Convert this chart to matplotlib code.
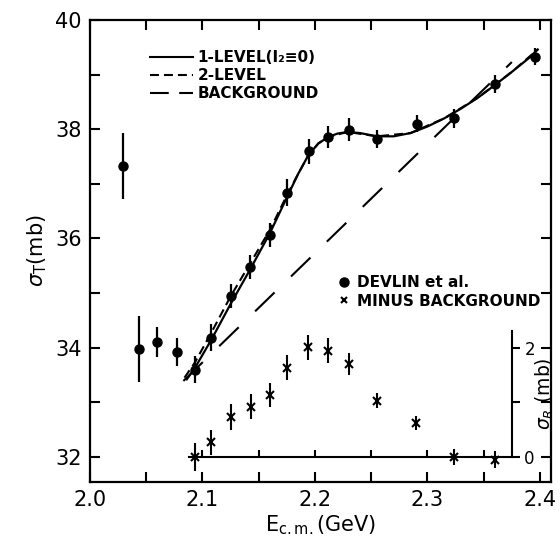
import matplotlib
matplotlib.use('Agg')
import matplotlib.pyplot as plt
from matplotlib.lines import Line2D
import matplotlib.ticker as ticker

# ── Data ──────────────────────────────────────────────────────────────────────
E_devlin   = [2.029, 2.044, 2.060, 2.077, 2.093, 2.108, 2.125, 2.142, 2.160,
              2.175, 2.195, 2.212, 2.230, 2.255, 2.291, 2.324, 2.360, 2.396]
sig_devlin = [37.33, 33.98, 34.10, 33.92, 33.60, 34.18, 34.95, 35.48, 36.07,
              36.84, 37.60, 37.86, 37.99, 37.82, 38.10, 38.20, 38.83, 39.33]
err_devlin = [0.60, 0.60, 0.27, 0.25, 0.25, 0.25, 0.22, 0.22, 0.22,
              0.25, 0.23, 0.20, 0.21, 0.17, 0.16, 0.17, 0.16, 0.16]

# minus background (sigma_R, mb)
E_r   = [2.093, 2.108, 2.125, 2.143, 2.160, 2.175, 2.194, 2.212, 2.230,
         2.255, 2.290, 2.324, 2.360]
sig_r = [0.00, 0.27, 0.73, 0.92, 1.14, 1.63, 2.01, 1.94, 1.70,
         1.03, 0.62, 0.00, -0.05]
err_r = [0.25, 0.23, 0.23, 0.23, 0.22, 0.23, 0.23, 0.23, 0.20,
         0.14, 0.13, 0.14, 0.15]

# fit curves
E_1lvl   = [2.086, 2.093, 2.108, 2.125, 2.142, 2.160, 2.169, 2.175, 2.185,
            2.194, 2.203, 2.212, 2.220, 2.229, 2.240, 2.255, 2.270, 2.285,
            2.300, 2.315, 2.330, 2.345, 2.360, 2.375, 2.390, 2.398]
sig_1lvl = [33.42, 33.62, 34.15, 34.80, 35.42, 36.10, 36.49, 36.75, 37.18,
            37.52, 37.74, 37.86, 37.92, 37.95, 37.93, 37.87, 37.87, 37.93,
            38.05, 38.20, 38.38, 38.58, 38.81, 39.05, 39.30, 39.46]

E_2lvl   = [2.084, 2.093, 2.108, 2.125, 2.142, 2.160, 2.175, 2.185, 2.194,
            2.203, 2.212, 2.229, 2.255, 2.285, 2.315, 2.345, 2.375, 2.398]
sig_2lvl = [33.45, 33.72, 34.28, 34.94, 35.53, 36.16, 36.79, 37.18, 37.52,
            37.74, 37.86, 37.95, 37.87, 37.93, 38.20, 38.58, 39.05, 39.46]

E_bg   = [2.083, 2.375]
sig_bg = [33.39, 39.23]

# sigma_R sub-axis extent (main-axis units)
SUB_X0, SUB_X1 = 2.088, 2.375
SUB_Y0, SUB_H  = 32.0, 2.3

plt.rcParams.update({
    'font.family': 'DejaVu Sans',
    'axes.linewidth': 1.6,
})

fig = plt.figure(figsize=(5.6, 5.42), dpi=100)
ax = fig.add_axes([90/560, 1 - 482/542, 461/560, 462/542])

# ── curves ────────────────────────────────────────────────────────────────────
ax.plot(E_bg, sig_bg, color='black', lw=1.5, dashes=(13, 11))
ax.plot(E_2lvl, sig_2lvl, color='black', lw=1.5, dashes=(4.3, 2.4))
ax.plot(E_1lvl, sig_1lvl, color='black', lw=1.6)

# ── Devlin data ───────────────────────────────────────────────────────────────
ax.errorbar(E_devlin, sig_devlin, yerr=err_devlin, fmt='o', color='black',
            markersize=6.5, elinewidth=1.6, capsize=0, zorder=5)

ax.set_xlim(2.0, 2.4098)
ax.set_ylim(31.54, 40)
ax.xaxis.set_major_locator(ticker.MultipleLocator(0.1))
ax.xaxis.set_minor_locator(ticker.MultipleLocator(0.05))
ax.yaxis.set_major_locator(ticker.MultipleLocator(2))
ax.yaxis.set_minor_locator(ticker.MultipleLocator(1))
ax.xaxis.set_major_formatter(ticker.FormatStrFormatter('%.1f'))
ax.tick_params(which='both', direction='in', length=7, width=1.5,
               top=True, right=True, labelsize=15, pad=6)

ax.set_xlabel(r'E$_{\mathregular{c.m.}}$(GeV)', fontsize=15, labelpad=2)
ax.set_ylabel(r'$\sigma_\mathregular{T}$(mb)', fontsize=15, labelpad=4)

# ── legends ───────────────────────────────────────────────────────────────────
h1 = [Line2D([], [], color='black', lw=1.5),
      Line2D([], [], color='black', lw=1.5, dashes=(4.3, 2.4)),
      Line2D([], [], color='black', lw=1.5, dashes=(9, 5))]
leg1 = ax.legend(h1, ['1-LEVEL(I₂≡0)', '2-LEVEL', 'BACKGROUND'],
                 loc='upper left', bbox_to_anchor=(0.13, 0.935),
                 frameon=False, borderaxespad=0, borderpad=0,
                 handlelength=2.8, handletextpad=0.3, labelspacing=0.2,
                 prop={'weight': 'bold', 'size': 11})
ax.add_artist(leg1)

h2 = [Line2D([], [], ls='none', marker='o', color='black', markersize=6.5),
      Line2D([], [], ls='none', marker='x', color='black', markersize=5,
             markeredgewidth=1.5)]
ax.legend(h2, ['DEVLIN et al.', 'MINUS BACKGROUND'],
          loc='upper left', bbox_to_anchor=(0.535, 0.447),
          frameon=False, borderaxespad=0, borderpad=0,
          handlelength=0.9, handletextpad=0.45, labelspacing=0.2,
          prop={'weight': 'bold', 'size': 11})

# ── sigma_R sub-axis ──────────────────────────────────────────────────────────
sub = ax.inset_axes([SUB_X0, SUB_Y0, SUB_X1 - SUB_X0, SUB_H],
                    transform=ax.transData)
sub.patch.set_alpha(0)
sub.set_xlim(SUB_X0, SUB_X1)
sub.set_ylim(0, SUB_H)
for s in ['top', 'left']:
    sub.spines[s].set_visible(False)
for s in ['bottom', 'right']:
    sub.spines[s].set_linewidth(1.5)
sub.xaxis.set_major_locator(ticker.MultipleLocator(0.05))
sub.yaxis.set_major_locator(ticker.FixedLocator([0, 1, 2]))
sub.yaxis.set_major_formatter(ticker.FixedFormatter(['0', '', '2']))
sub.tick_params(axis='x', direction='in', length=5, width=1.5,
                labelbottom=False)
sub.tick_params(axis='y', direction='out', length=6, width=1.5,
                left=False, labelleft=False, right=True, labelright=True,
                labelsize=12, pad=3)
sub.yaxis.set_label_position('right')
sub.set_ylabel(r'$\sigma_R$ (mb)', fontsize=13.5, labelpad=-1)

sub.errorbar(E_r, sig_r, yerr=err_r, fmt='x', color='black',
             markersize=6, markeredgewidth=1.5, elinewidth=1.5, capsize=0,
             clip_on=False, zorder=5)

fig.savefig('out.png', dpi=100, facecolor='white')
